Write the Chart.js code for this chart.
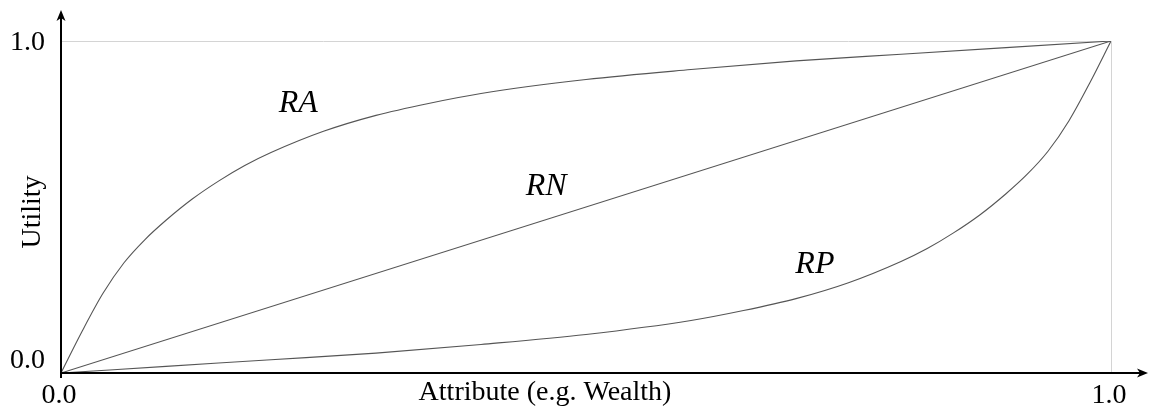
<!DOCTYPE html>
<html lang="en">
<head>
    <meta charset="UTF-8">
    <title>Utility Curves</title>
    <script src="https://cdn.jsdelivr.net/npm/chart.js"></script>
    <style>
        body { margin: 0; background: #fff; }
        .chart-container { width: 1151px; height: 407px; }
    </style>
</head>
<body>
    <div class="chart-container">
        <canvas id="chart"></canvas>
    </div>

    <script>
        // values
        const raX = [0, 0.02, 0.04, 0.06, 0.08, 0.1, 0.125, 0.15, 0.175, 0.2, 0.25, 0.3, 0.35, 0.4, 0.5, 0.6, 0.7, 0.8, 0.9, 1.0];
        const raY = [0, 0.125, 0.24, 0.332, 0.402, 0.46, 0.524, 0.578, 0.625, 0.664, 0.728, 0.776, 0.812, 0.842, 0.884, 0.914, 0.94, 0.96, 0.98, 1.0];

        const rnX = [0, 1.0];
        const rnY = [0, 1.0];

        const rpX = [0, 0.1, 0.2, 0.3, 0.4, 0.5, 0.6, 0.65, 0.7, 0.75, 0.8, 0.825, 0.85, 0.875, 0.9, 0.92, 0.94, 0.96, 0.98, 1.0];
        const rpY = [0, 0.02, 0.04, 0.06, 0.086, 0.116, 0.158, 0.188, 0.224, 0.272, 0.336, 0.375, 0.422, 0.476, 0.54, 0.598, 0.668, 0.76, 0.875, 1.0];

        const tickValues = [0, 1.0];

        const curveNames = ['RA', 'RN', 'RP'];
        const curveLabelX = [0.226, 0.462, 0.718];
        const curveLabelY = [0.812, 0.56, 0.328];

        const xTitle = 'Attribute (e.g. Wealth)';
        const yTitle = 'Utility';

        const serif = "'Liberation Serif', 'Times New Roman', serif";

        function points(xs, ys) {
            return xs.map((x, i) => ({ x: x, y: ys[i] }));
        }

        function curve(label, xs, ys) {
            return {
                label: label,
                data: points(xs, ys),
                borderColor: '#555',
                borderWidth: 1.1,
                pointRadius: 0,
                fill: false,
                cubicInterpolationMode: 'monotone'
            };
        }

        const gridAtOne = ctx => (ctx.tick && ctx.tick.value === 1) ? '#d4d4d4' : 'rgba(0,0,0,0)';

        const decorations = {
            id: 'decorations',
            afterDraw(chart) {
                const ctx = chart.ctx;
                const area = chart.chartArea;
                const xs = chart.scales.x;
                const ys = chart.scales.y;
                const x0 = xs.getPixelForValue(0);
                const y0 = ys.getPixelForValue(0);

                ctx.save();
                ctx.strokeStyle = '#000';
                ctx.fillStyle = '#000';
                ctx.lineWidth = 2;

                // axes with arrows
                const yTip = 10;
                const xTip = chart.width - 3;
                ctx.beginPath();
                ctx.moveTo(x0, y0 + 5);
                ctx.lineTo(x0, yTip + 4);
                ctx.moveTo(x0 - 1, y0);
                ctx.lineTo(xTip - 4, y0);
                ctx.stroke();

                ctx.beginPath();
                ctx.moveTo(x0, yTip);
                ctx.lineTo(x0 - 4.5, yTip + 11);
                ctx.lineTo(x0, yTip + 8);
                ctx.lineTo(x0 + 4.5, yTip + 11);
                ctx.closePath();
                ctx.fill();

                ctx.beginPath();
                ctx.moveTo(xTip, y0);
                ctx.lineTo(xTip - 11, y0 - 4.5);
                ctx.lineTo(xTip - 8, y0);
                ctx.lineTo(xTip - 11, y0 + 4.5);
                ctx.closePath();
                ctx.fill();

                // curve names
                ctx.font = 'italic 32px ' + serif;
                ctx.textAlign = 'center';
                ctx.textBaseline = 'middle';
                curveNames.forEach((name, i) => {
                    ctx.fillText(name, xs.getPixelForValue(curveLabelX[i]), ys.getPixelForValue(curveLabelY[i]));
                });

                // axis titles
                ctx.font = '28px ' + serif;
                ctx.textBaseline = 'alphabetic';
                ctx.fillText(xTitle, area.left + 484, area.bottom + 27);

                ctx.translate(area.left - 21, (area.top + area.bottom) / 2 + 5);
                ctx.rotate(-Math.PI / 2);
                ctx.fillText(yTitle, 0, 0);
                ctx.restore();
            }
        };

        new Chart('chart', {
            type: 'line',
            data: {
                datasets: [
                    curve('RA', raX, raY),
                    curve('RN', rnX, rnY),
                    curve('RP', rpX, rpY)
                ]
            },
            options: {
                responsive: true,
                maintainAspectRatio: false,
                animation: false,
                layout: { padding: { top: 41, right: 40, left: 0, bottom: 0 } },
                plugins: {
                    legend: { display: false },
                    tooltip: { enabled: false }
                },
                scales: {
                    x: {
                        type: 'linear',
                        min: 0,
                        max: 1,
                        afterBuildTicks: scale => { scale.ticks = tickValues.map(v => ({ value: v })); },
                        afterFit: scale => {
                            scale.height = 34;
                            scale.paddingLeft = 0;
                            scale.paddingRight = 0;
                        },
                        border: { display: false },
                        grid: { color: gridAtOne, drawTicks: false, lineWidth: 1 },
                        ticks: {
                            autoSkip: false,
                            maxRotation: 0,
                            padding: 6,
                            labelOffset: -2,
                            color: '#000',
                            font: { family: serif, size: 28 },
                            callback: v => v.toFixed(1)
                        }
                    },
                    y: {
                        min: 0,
                        max: 1,
                        afterBuildTicks: scale => { scale.ticks = tickValues.map(v => ({ value: v })); },
                        afterFit: scale => {
                            scale.width = 61;
                            scale.paddingTop = 0;
                            scale.paddingBottom = 0;
                        },
                        border: { display: false },
                        grid: { color: gridAtOne, drawTicks: false, lineWidth: 1 },
                        ticks: {
                            autoSkip: false,
                            padding: 16,
                            labelOffset: 2,
                            color: '#000',
                            font: { family: serif, size: 28, lineHeight: 1.0 },
                            // the bottom label sits a little above the axis
                            callback: v => v === 0 ? ['0.0', ''] : v.toFixed(1)
                        }
                    }
                }
            },
            plugins: [decorations]
        });
    </script>
</body>
</html>
